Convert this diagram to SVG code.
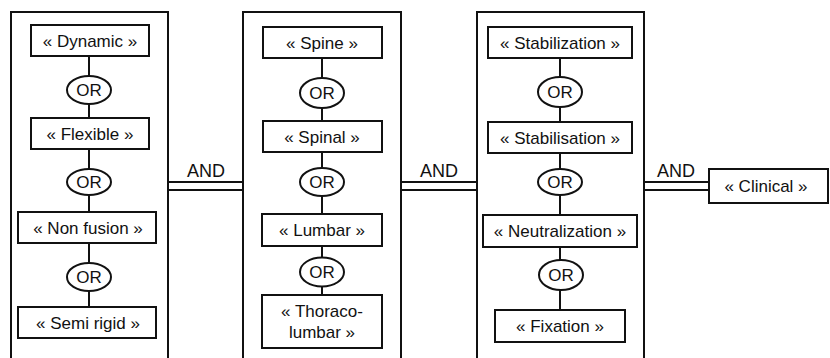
<svg xmlns="http://www.w3.org/2000/svg" width="830" height="358" viewBox="0 0 830 358">
<style>
.grp{fill:none;stroke:#111;stroke-width:2}
.box{fill:#fff;stroke:#111;stroke-width:2}
.or{fill:#fff;stroke:#111;stroke-width:2}
.ln{stroke:#111;stroke-width:2;fill:none}
text{font-family:"Liberation Sans",Arial,sans-serif;fill:#111;text-anchor:middle}
.t{font-size:17px}
.a{font-size:18px}
</style>
<rect width="830" height="358" fill="#fff"/>
<g id="connectors">
<line class="ln" x1="89" y1="56" x2="89" y2="118"/>
<line class="ln" x1="89" y1="149" x2="89" y2="212"/>
<line class="ln" x1="89" y1="243" x2="89" y2="307"/>
<line class="ln" x1="322" y1="58" x2="322" y2="121"/>
<line class="ln" x1="322" y1="152" x2="322" y2="214"/>
<line class="ln" x1="322" y1="246" x2="322" y2="295"/>
<line class="ln" x1="560" y1="58" x2="560" y2="122"/>
<line class="ln" x1="560" y1="153" x2="560" y2="215"/>
<line class="ln" x1="560" y1="247" x2="560" y2="310"/>
<line class="ln" x1="168" y1="182" x2="243" y2="182"/>
<line class="ln" x1="168" y1="190" x2="243" y2="190"/>
<line class="ln" x1="401" y1="182" x2="477" y2="182"/>
<line class="ln" x1="401" y1="190" x2="477" y2="190"/>
<line class="ln" x1="644" y1="182" x2="709" y2="182"/>
<line class="ln" x1="644" y1="190" x2="709" y2="190"/>
<text class="a" x="206" y="177">AND</text>
<text class="a" x="439" y="177">AND</text>
<text class="a" x="676" y="177">AND</text>
</g>
<g id="group1"><rect class="grp" x="11" y="12" width="157" height="360"/></g>
<g id="group2"><rect class="grp" x="243" y="12" width="158" height="360"/></g>
<g id="group3"><rect class="grp" x="477" y="12" width="167" height="360"/></g>
<g id="dynamic"><rect class="box" x="31" y="25" width="118" height="31"/><text class="t" x="90" y="46.5">« Dynamic »</text></g>
<g id="or1"><ellipse class="or" cx="89" cy="90" rx="22" ry="14"/><text class="t" x="89" y="96">OR</text></g>
<g id="flexible"><rect class="box" x="31" y="118" width="118" height="31"/><text class="t" x="90" y="139.5">« Flexible »</text></g>
<g id="or2"><ellipse class="or" cx="89" cy="182" rx="22" ry="13"/><text class="t" x="89" y="188">OR</text></g>
<g id="nonfusion"><rect class="box" x="18" y="212" width="138" height="31"/><text class="t" x="88" y="233.5">« Non fusion »</text></g>
<g id="or3"><ellipse class="or" cx="89" cy="277" rx="22" ry="14"/><text class="t" x="89" y="283">OR</text></g>
<g id="semirigid"><rect class="box" x="18" y="307" width="138" height="31"/><text class="t" x="88" y="328.5">« Semi rigid »</text></g>
<g id="spine"><rect class="box" x="263" y="27" width="119" height="31"/><text class="t" x="322" y="48.5">« Spine »</text></g>
<g id="or4"><ellipse class="or" cx="322" cy="93" rx="22" ry="15"/><text class="t" x="322" y="99">OR</text></g>
<g id="spinal"><rect class="box" x="263" y="121" width="119" height="31"/><text class="t" x="322" y="142.5">« Spinal »</text></g>
<g id="or5"><ellipse class="or" cx="322" cy="182" rx="22" ry="14"/><text class="t" x="322" y="188">OR</text></g>
<g id="lumbar"><rect class="box" x="262" y="214" width="120" height="32"/><text class="t" x="322" y="236">« Lumbar »</text></g>
<g id="or6"><ellipse class="or" cx="322" cy="272" rx="22" ry="14.5"/><text class="t" x="322" y="278">OR</text></g>
<g id="thoracolumbar"><rect class="box" x="262" y="295" width="120" height="53"/><text class="t" x="322" y="317">« Thoraco-</text><text class="t" x="322" y="338">lumbar »</text></g>
<g id="stabilization"><rect class="box" x="488" y="27" width="144" height="31"/><text class="t" x="560" y="48.5">« Stabilization »</text></g>
<g id="or7"><ellipse class="or" cx="560" cy="92" rx="22" ry="15"/><text class="t" x="560" y="98">OR</text></g>
<g id="stabilisation"><rect class="box" x="488" y="122" width="144" height="31"/><text class="t" x="560" y="143.5">« Stabilisation »</text></g>
<g id="or8"><ellipse class="or" cx="560" cy="182" rx="22" ry="13"/><text class="t" x="560" y="188">OR</text></g>
<g id="neutralization"><rect class="box" x="483" y="215" width="154" height="32"/><text class="t" x="560" y="237">« Neutralization »</text></g>
<g id="or9"><ellipse class="or" cx="561" cy="275" rx="22" ry="15"/><text class="t" x="561" y="281">OR</text></g>
<g id="fixation"><rect class="box" x="495" y="310" width="130" height="32"/><text class="t" x="560" y="332">« Fixation »</text></g>
<g id="clinical"><rect class="box" x="709" y="169" width="119" height="34"/><text class="t" x="766" y="192">« Clinical »</text></g>
</svg>
